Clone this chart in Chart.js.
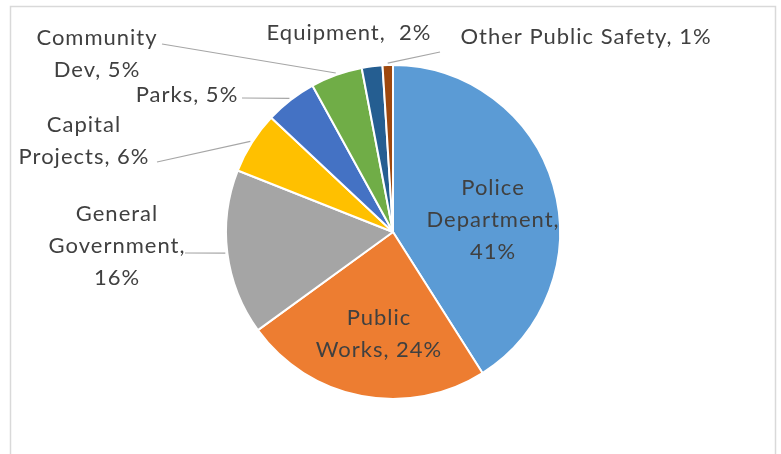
<!DOCTYPE html>
<html><head><meta charset="utf-8">
<script src="https://cdn.jsdelivr.net/npm/chart.js@4.4.1/dist/chart.umd.min.js"></script>
<style>html,body{margin:0;padding:0;background:#fff;overflow:hidden}#wrap{position:relative;width:781px;height:454px}</style>
</head><body><div id="wrap"><canvas id="c" width="781" height="454"></canvas></div>
<script>
// ---- data ----
const categories = ['Police Department', 'Public Works', 'General Government', 'Capital Projects', 'Parks', 'Community Dev', 'Equipment', 'Other Public Safety'];
const shares = [41, 24, 16, 6, 5, 5, 2, 1];
const labelLines = [
  ['Police', 'Department,', '41%'],
  ['Public', 'Works, 24%'],
  ['General', 'Government,', '16%'],
  ['Capital', 'Projects, 6%'],
  ['Parks, 5%'],
  ['Community', 'Dev, 5%'],
  ['Equipment,  2%'],
  ['Other Public Safety, 1%']
];
const sliceColors = ['#5B9BD5', '#ED7D31', '#A5A5A5', '#FFC000', '#4472C4', '#70AD47', '#255E91', '#9E480E'];

// ---- label layout (offsets of label block centre from pie centre; leader start offsets) ----
const labelPos = [
  {dx: 100, dy: -12},
  {dx: -14, dy: 102},
  {dx: -276, dy: 14},
  {dx: -309, dy: -91},
  {dx: -206, dy: -137},
  {dx: -296, dy: -178},
  {dx: -44, dy: -199},
  {dx: 193, dy: -195}
];
const leaderStart = [null, null, {dx: -208, dy: 21}, {dx: -236, dy: -70}, {dx: -151, dy: -134}, {dx: -231, dy: -188}, null, {dx: 47, dy: -180}];

const LINE_H = 32;
const TEXT_COLOR = '#404040';

const labelPlugin = {
  id: 'excelLabels',
  beforeDraw(chart) {
    const ctx = chart.ctx;
    ctx.save();
    ctx.fillStyle = '#ffffff';
    ctx.fillRect(0, 0, chart.width, chart.height);
    ctx.strokeStyle = '#d9d9d9';
    ctx.lineWidth = 1.5;
    ctx.strokeRect(10.5, 6.5, 765, 470);
    ctx.restore();
  },
  afterDatasetsDraw(chart) {
    const ctx = chart.ctx;
    const meta = chart.getDatasetMeta(0);
    ctx.save();
    meta.data.forEach((arc, i) => {
      const cx = arc.x, cy = arc.y;
      const mid = (arc.startAngle + arc.endAngle) / 2;
      const r = arc.outerRadius + 2;
      const ls = leaderStart[i];
      if (ls) {
        ctx.beginPath();
        ctx.strokeStyle = '#a6a6a6';
        ctx.lineWidth = 1.2;
        ctx.moveTo(cx + ls.dx, cy + ls.dy);
        ctx.lineTo(cx + Math.cos(mid) * r, cy + Math.sin(mid) * r);
        ctx.stroke();
      }
    });
    ctx.font = '22px Lato';
    try { ctx.letterSpacing = '1px'; } catch (e) {}
    ctx.fillStyle = TEXT_COLOR;
    ctx.textAlign = 'center';
    ctx.textBaseline = 'middle';
    meta.data.forEach((arc, i) => {
      const lines = labelLines[i];
      const p = labelPos[i];
      const x = arc.x + p.dx;
      const y0 = arc.y + p.dy - (lines.length - 1) * LINE_H / 2;
      lines.forEach((t, k) => ctx.fillText(t, x, y0 + k * LINE_H));
    });
    ctx.restore();
  }
};

new Chart(document.getElementById('c'), {
  type: 'pie',
  data: {
    labels: categories,
    datasets: [{
      data: shares,
      backgroundColor: sliceColors,
      borderColor: '#ffffff',
      borderWidth: 2
    }]
  },
  options: {
    responsive: false,
    animation: false,
    layout: {padding: {top: 64, bottom: 54, left: 225, right: 220}},
    plugins: {legend: {display: false}, tooltip: {enabled: false}}
  },
  plugins: [labelPlugin]
});
</script>
</body></html>
